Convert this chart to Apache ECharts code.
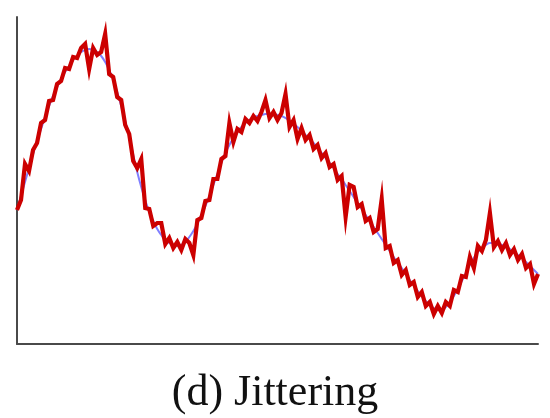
<!DOCTYPE html>
<html>
<head>
<meta charset="utf-8">
<script src="https://cdn.jsdelivr.net/npm/echarts@6/dist/echarts.min.js"></script>
<style>html,body{margin:0;padding:0;background:#fff}#c{width:550px;height:418px}</style>
</head>
<body>
<div id="c"></div>
<script>
// sample positions (index along the x axis)
const categories = [];
for (let i = 0; i <= 130; i++) categories.push(i);

// underlying smooth signal (blue)
const smoothValues = [
134,148,162,176,190,203,215,227,238,248,
257,265,272,278,284,288,292,294,295,294,
292,288,282,274,264,252,238,223,207,189,
172,157,144,132,123,115,109,104,101,99,
98,99,102,107,113,120,129,138,148,159,
170,181,191,199,206,212,217,221,224,226,
228,229,230,230,230,229,228,226,223,220,
217,213,209,205,201,196,191,186,181,176,
170,165,159,153,147,141,135,129,123,117,
111,105,99,93,87,81,76,70,64,59,
53,48,43,39,36,34,34,37,42,48,
55,63,71,79,86,92,96,99,101,101,
100,99,97,95,92,89,86,82,78,74,
70];

// jittered signal (red)
const jitterValues = [
134,144,180,173,194,201,221,224,243,244,
260,263,276,275,287,286,296,300,275,296,
289,292,310,270,267,247,244,219,210,183,
176,185,136,135,118,121,121,100,106,96,
102,94,105,101,89,124,126,143,144,165,
165,185,188,221,202,215,212,225,221,228,
223,232,244,226,232,224,231,250,217,224,
205,216,204,209,195,199,186,191,177,180,
164,168,127,159,157,137,140,123,126,112,
115,145,96,98,81,84,69,74,59,62,
47,52,38,42,30,38,31,42,38,54,
52,68,67,87,76,98,93,104,131,97,
103,94,101,89,95,84,90,76,80,60,
70];

const caption = "(d) Jittering";

const chart = echarts.init(document.getElementById('c'), null, {renderer: 'canvas'});
chart.setOption({
  animation: false,
  backgroundColor: '#ffffff',
  grid: {left: 17, top: 17, right: 12, bottom: 74, containLabel: false},
  xAxis: {
    type: 'category',
    data: categories,
    boundaryGap: false,
    axisLine: {show: true, lineStyle: {color: '#4a4a4a', width: 2}},
    axisTick: {show: false},
    axisLabel: {show: false},
    splitLine: {show: false}
  },
  yAxis: {
    type: 'value',
    min: 0,
    max: 327,
    axisLine: {show: true, lineStyle: {color: '#4a4a4a', width: 2}},
    axisTick: {show: false},
    axisLabel: {show: false},
    splitLine: {show: false}
  },
  series: [
    {
      type: 'line',
      data: smoothValues,
      smooth: true,
      symbol: 'none',
      lineStyle: {color: '#7f7fff', width: 2},
      z: 1
    },
    {
      type: 'line',
      data: jitterValues,
      symbol: 'none',
      lineStyle: {color: '#cc0000', width: 4.2, join: 'miter'},
      z: 2
    }
  ],
  graphic: [{
    type: 'text',
    left: 'center',
    top: 371,
    style: {
      text: caption,
      font: '44px "Liberation Serif", "DejaVu Serif", serif',
      fill: '#111111'
    }
  }]
});
</script>
</body>
</html>
